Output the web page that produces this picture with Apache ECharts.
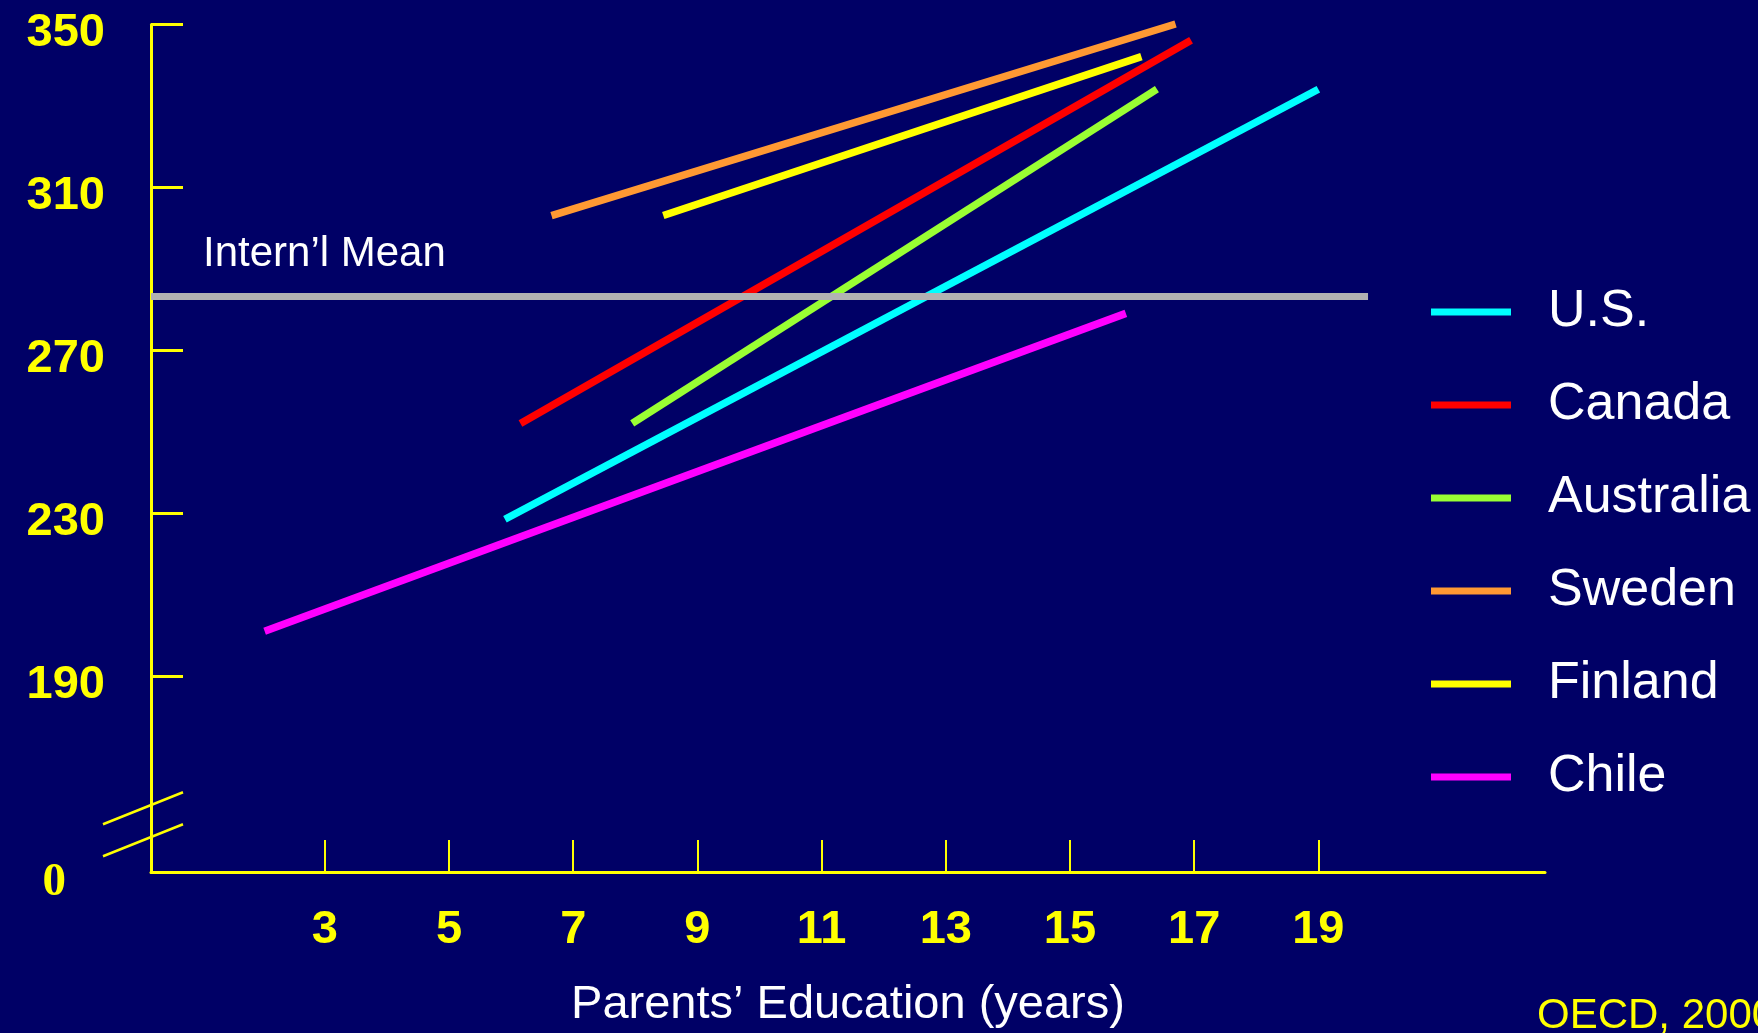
<!DOCTYPE html>
<html>
<head>
<meta charset="utf-8">
<script src="https://cdn.jsdelivr.net/npm/echarts@6/dist/echarts.min.js"></script>
<style>
  html, body { margin: 0; padding: 0; background: #000066; }
  #main { width: 1758px; height: 1033px; }
</style>
</head>
<body>
<div id="main"></div>
<script>
// ---- data ----
const xTicks = [3, 5, 7, 9, 11, 13, 15, 17, 19];
const yTicks = [190, 230, 270, 310, 350];
const yLabels = [0, 190, 230, 270, 310, 350];
const countries = ['U.S.', 'Canada', 'Australia', 'Sweden', 'Finland', 'Chile'];
const colors = ['#00FFFF', '#FF0000', '#99FF33', '#FF9933', '#FFFF00', '#FF00FF'];
const usLine = [[5.9, 228.5], [19.0, 334.0]];
const canadaLine = [[6.15, 252.0], [16.95, 346.0]];
const australiaLine = [[7.95, 252.0], [16.4, 334.0]];
const swedenLine = [[6.65, 303.0], [16.7, 350.0]];
const finlandLine = [[8.45, 303.0], [16.15, 342.0]];
const chileLine = [[2.03, 201.0], [15.9, 279.0]];
const internMean = 283.3;
const internMeanSpan = [0.2, 19.8];
const xRange = [0.2, 22.65];
const yRange = [0, 350];
const yBreak = [12.5, 154.44];

const lines = [usLine, canadaLine, australiaLine, swedenLine, finlandLine, chileLine];
const YELLOW = '#FFFF00';
const SANS = '"Liberation Sans", Arial, sans-serif';

const chart = echarts.init(document.getElementById('main'), null, { renderer: 'canvas' });

const series = [{
  name: 'Intern’l Mean',
  type: 'line',
  data: [],
  z: 1,
  markLine: {
    silent: true,
    symbol: ['none', 'none'],
    animation: false,
    lineStyle: { color: '#B2B2B2', width: 7, type: 'solid' },
    label: {
      show: true,
      formatter: 'Intern’l Mean',
      position: 'insideStartTop',
      distance: [52, 20],
      color: '#FFFFFF',
      fontFamily: SANS,
      fontSize: 42
    },
    emphasis: { disabled: true },
    data: [[{ coord: [internMeanSpan[0], internMean] }, { coord: [internMeanSpan[1], internMean] }]]
  }
}];
countries.forEach(function (name, i) {
  series.push({
    name: name,
    type: 'line',
    data: lines[i],
    z: 2,
    clip: false,
    showSymbol: false,
    symbol: 'none',
    color: colors[i],
    lineStyle: { color: colors[i], width: 7.5, cap: 'butt' },
    emphasis: { disabled: true }
  });
});

const option = {
  backgroundColor: '#000066',
  animation: false,
  grid: { left: 151, right: 213, top: 24, bottom: 161, containLabel: false, outerBoundsMode: 'none' },
  xAxis: {
    type: 'value',
    min: xRange[0],
    max: xRange[1],
    name: 'Parents’ Education (years)',
    nameLocation: 'middle',
    nameGap: 110,
    nameTextStyle: { color: '#FFFFFF', fontFamily: SANS, fontSize: 47 },
    axisLine: { show: true, onZero: false, lineStyle: { color: YELLOW, width: 3 } },
    axisTick: { show: true, inside: true, length: 32, customValues: xTicks, lineStyle: { color: YELLOW, width: 2 } },
    axisLabel: { show: true, customValues: xTicks, color: YELLOW, fontFamily: SANS, fontWeight: 'bold', fontSize: 47, margin: 35 },
    splitLine: { show: false }
  },
  yAxis: {
    type: 'value',
    min: yRange[0],
    max: yRange[1],
    breaks: [{ start: yBreak[0], end: yBreak[1], gap: 0 }],
    breakArea: { show: false },
    axisLine: { show: true, onZero: false, lineStyle: { color: YELLOW, width: 3 } },
    axisTick: { show: true, inside: true, length: 32, customValues: yTicks, lineStyle: { color: YELLOW, width: 3 } },
    axisLabel: {
      show: true,
      customValues: yLabels,
      margin: 46,
      formatter: function (v) { return v === 0 ? '{z|0}' : '{n|' + v + '}'; },
      rich: {
        n: { color: YELLOW, fontFamily: SANS, fontWeight: 'bold', fontSize: 47, padding: [18, 0, 0, 0] },
        z: { color: YELLOW, fontFamily: '"Liberation Serif", "Times New Roman", serif', fontWeight: 'bold', fontSize: 47, padding: [22, 39, 0, 0] }
      }
    },
    splitLine: { show: false }
  },
  legend: {
    orient: 'vertical',
    left: 1431,
    top: 286,
    padding: 0,
    itemGap: 41,
    itemWidth: 80,
    itemHeight: 7,
    icon: 'rect',
    data: countries,
    selectedMode: false,
    textStyle: { color: '#FFFFFF', fontFamily: SANS, fontSize: 52, lineHeight: 52, padding: [0, 0, 0, 32] }
  },
  series: series
};
chart.setOption(option);

// break marks on the y axis + source note
const ax = chart.convertToPixel({ xAxisIndex: 0 }, xRange[0]);
const yb = chart.convertToPixel({ yAxisIndex: 0 }, yBreak[0]);
function breakMark(cy) {
  return {
    type: 'line',
    shape: { x1: ax - 48, y1: cy + 19.2, x2: ax + 32, y2: cy - 12.8 },
    style: { stroke: YELLOW, lineWidth: 2.5 },
    silent: true
  };
}
chart.setOption({
  graphic: [
    breakMark(yb - 16),
    breakMark(yb + 16),
    {
      type: 'text',
      left: 1537,
      top: 995,
      silent: true,
      style: { text: 'OECD, 2000', fill: YELLOW, font: '42px "Liberation Sans", Arial, sans-serif' }
    }
  ]
});
</script>
</body>
</html>
